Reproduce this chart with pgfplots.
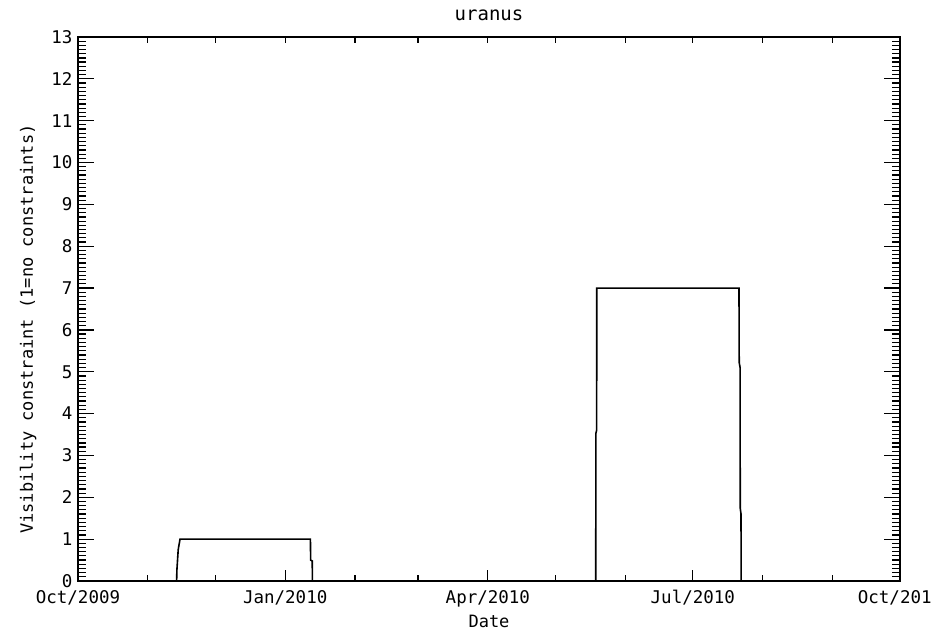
\documentclass[border=0pt]{standalone}
\usepackage{fontspec}
\newfontfamily\hfont{DejaVu Sans Mono}
\usepackage{pgfplots}
\pgfplotsset{compat=1.18}
\begin{document}
\begin{tikzpicture}[x=1bp,y=1bp]
\useasboundingbox (0,0) rectangle (949,634);
\begin{axis}[
  at={(78bp,53bp)}, anchor=south west,
  scale only axis, width=822bp, height=544bp,
  xmin=0, xmax=365, ymin=0, ymax=13,
  axis line style={line width=1.6bp},
  xtick={0,92,182,273,365},
  xticklabels={Oct/2009,Jan/2010,Apr/2010,Jul/2010,Oct/201\phantom{0}},
  ytick={0,...,13},
  minor y tick num=9,
  tick align=inside,
  major tick length=16bp, minor tick length=8bp,
  every tick/.style={black, line width=1.2bp},
  major x tick style={draw=none},
  /pgf/number format/assume math mode=true,
  tick label style={font=\hfont\fontsize{17.5bp}{20bp}\selectfont},
  xticklabel style={yshift=-6bp},
  yticklabel style={xshift=-2bp},
  title={uranus},
  title style={at={(axis description cs:0.5,1)}, anchor=base, inner sep=0pt, yshift=11bp, font=\hfont\fontsize{19bp}{22bp}\selectfont},
  xlabel={Date},
  xlabel style={at={(axis description cs:0.5,0)}, anchor=north, inner sep=0pt, yshift=-34bp, font=\hfont\fontsize{17bp}{20bp}\selectfont},
  ylabel={Visibility constraint (1=no constraints)},
  ylabel style={at={(axis description cs:-0.0608,0.463)}, anchor=center, rotate=0, inner sep=0pt, font=\hfont\fontsize{17bp}{20bp}\selectfont},
]
\addplot[black, line width=1.6bp] coordinates {
  (0,0) (43.8,0) (43.9,0.25) (44.5,0.75) (45.3,1)
  (103.2,1) (103.3,0.5) (104.0,0.48) (104.1,0)
  (229.9,0) (229.95,3.53) (230.3,3.6) (230.35,7)
  (293.5,7) (293.6,5.22) (294.0,5.1) (294.05,1.74) (294.4,1.6) (294.45,0)
  (365,0)
};
\end{axis}
\begin{axis}[
  at={(78bp,53bp)}, anchor=south west,
  scale only axis, width=822bp, height=544bp,
  xmin=0, xmax=365, ymin=0, ymax=13,
  axis x line*=bottom, axis y line=none,
  axis line style={line width=1.6bp, -},
  xtick={0,92,182,273,365},
  minor xtick={31,61,123,151,212,243,304,335},
  xticklabels={},
  tick align=inside,
  major tick length=11bp, minor tick length=6bp,
  every tick/.style={black, line width=1.2bp},
]
\end{axis}
\begin{axis}[
  at={(78bp,53bp)}, anchor=south west,
  scale only axis, width=822bp, height=544bp,
  xmin=0, xmax=365, ymin=0, ymax=13,
  axis x line*=top, axis y line=none,
  axis line style={line width=1.6bp, -},
  xtick={31,61,92,123,151,182,212,243,273,304,335},
  xticklabels={},
  tick align=inside,
  major tick length=6bp,
  every tick/.style={black, line width=1.2bp},
]
\end{axis}
\end{tikzpicture}
\end{document}
